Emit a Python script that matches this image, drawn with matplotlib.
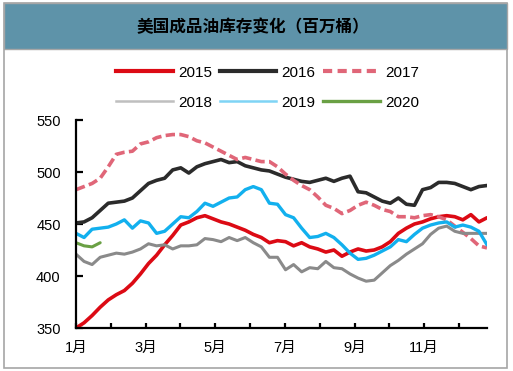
import numpy as np
import matplotlib
matplotlib.use('Agg')
import matplotlib.pyplot as plt
from matplotlib.patches import Rectangle
from matplotlib.lines import Line2D

plt.rcParams['font.family'] = ['Liberation Sans', 'Noto Sans CJK SC']

# weekly inventories (million barrels)
y2015 = [350, 355, 362, 370, 377, 382, 386, 393, 402, 412, 420, 430, 439, 449,
         452, 456, 458, 455, 452, 450, 447, 444, 440, 437, 432, 434, 433, 429,
         432, 428, 426, 423, 425, 419, 423, 426, 424, 425, 428, 433, 441, 446,
         450, 452, 455, 457, 458, 457, 454, 459, 452, 456]
y2016 = [451, 452, 456, 463, 470, 471, 472, 475, 482, 489, 492, 494, 502, 504,
         499, 505, 508, 510, 512, 509, 510, 506, 504, 502, 501, 498, 495, 493,
         491, 490, 492, 494, 491, 494, 496, 481, 480, 476, 472, 470, 475, 469,
         468, 483, 485, 490, 490, 489, 486, 483, 486, 487]
y2017 = [483, 486, 489, 494, 505, 517, 519, 520, 527, 529, 533, 535, 536, 536,
         534, 530, 528, 524, 520, 516, 512, 514, 512, 510, 510, 505, 498, 492,
         487, 483, 476, 468, 465, 460, 463, 468, 471, 468, 464, 462, 457, 457,
         456, 458, 459, 457, 454, 448, 442, 436, 429, 427]
y2018 = [421, 414, 411, 418, 420, 422, 421, 423, 426, 431, 429, 430, 426, 429,
         429, 430, 436, 435, 433, 437, 434, 437, 432, 428, 418, 418, 406, 411,
         404, 408, 407, 414, 408, 407, 402, 398, 395, 396, 403, 410, 415, 421,
         426, 431, 440, 446, 448, 443, 441, 441, 441, 441]
y2019 = [441, 437, 445, 446, 447, 450, 454, 446, 453, 451, 441, 443, 450, 457,
         456, 462, 470, 467, 471, 475, 476, 483, 486, 483, 470, 469, 459, 456,
         446, 437, 438, 441, 437, 430, 422, 416, 417, 420, 424, 428, 435, 433,
         440, 446, 449, 451, 452, 447, 449, 447, 443, 430]
y2020 = [432, 429, 428, 432]

month_labels = ['1月', '', '3月', '', '5月', '', '7月', '', '9月', '', '11月', '']

fig = plt.figure(figsize=(5.13, 3.71), dpi=100)

# outer frame and title band
fig.patches.append(Rectangle((4 / 513, 3 / 371), 503 / 513, 365 / 371,
                             transform=fig.transFigure, fill=False,
                             edgecolor='#a6a6a6', lw=1.2))
fig.patches.append(Rectangle((4 / 513, 322 / 371), 503 / 513, 46 / 371,
                             transform=fig.transFigure, facecolor='#5e93a9',
                             edgecolor='#a6a6a6', lw=1.0))
fig.text(0.493, 0.928, '美国成品油库存变化（百万桶）', ha='center', va='center',
         fontsize=12, fontweight='bold', color='black',
         family=['Noto Sans CJK SC', 'DejaVu Sans'])

ax = fig.add_axes([76 / 513, 43 / 371, 411 / 513, 208 / 371])

series = [
    ('2015', y2015, dict(color='#dc0a14', lw=2.6)),
    ('2016', y2016, dict(color='#2b2b2b', lw=2.6)),
    ('2017', y2017, dict(color='#e06678', lw=2.6, ls=(0, (2.6, 1.2)))),
    ('2018', y2018, dict(color='#8a8a8a', lw=2.2)),
    ('2019', y2019, dict(color='#12b0ee', lw=2.4)),
    ('2020', y2020, dict(color='#6aa044', lw=2.2)),
]
for name, vals, style in series:
    ax.plot(np.arange(len(vals)), vals, solid_capstyle='round', **style)

ax.set_xlim(0, 51)
ax.set_ylim(350, 550)
ax.set_yticks([350, 400, 450, 500, 550])
ax.set_xticks(np.arange(12) * 4.32)
ax.set_xticklabels(month_labels)
for s in ['top', 'right']:
    ax.spines[s].set_visible(False)
for s in ['left', 'bottom']:
    ax.spines[s].set_linewidth(1.6)
ax.tick_params(axis='y', direction='in', length=5, width=1.6, pad=11,
               labelsize=10.5)
ax.tick_params(axis='x', direction='in', length=3.5, width=1.6, pad=9,
               labelsize=10.5)

# legend: two rows of three, thick lines for 2015-2017
handles = [Line2D([], [], color='#dc0a14', lw=3.0),
           Line2D([], [], color='#bfbfbf', lw=1.8),
           Line2D([], [], color='#2b2b2b', lw=3.0),
           Line2D([], [], color='#7fd4f5', lw=1.8),
           Line2D([], [], color='#e06678', lw=3.0, ls=(0, (2.2, 1.3))),
           Line2D([], [], color='#6aa044', lw=2.4)]
labels = ['2015', '2018', '2016', '2019', '2017', '2020']
fig.legend(handles, labels, ncol=3, loc='center', bbox_to_anchor=(0.522, 0.764),
           frameon=False, fontsize=11, handlelength=3.7, handletextpad=0.35,
           columnspacing=0.5, labelspacing=1.05)

fig.savefig('out.png', dpi=100)
